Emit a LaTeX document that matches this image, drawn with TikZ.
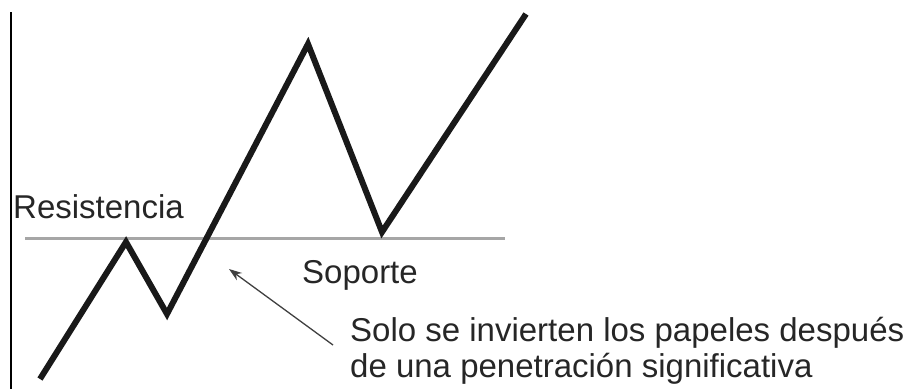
\documentclass[tikz,border=0pt]{standalone}
\usepackage{fontspec}
\setmainfont{Liberation Sans}
\usetikzlibrary{arrows.meta, positioning}

\begin{document}
\begin{tikzpicture}[
    x=1pt, y=-1pt,
    axis/.style={draw=black, line width=2pt},
    level/.style={draw=black!35, line width=3pt},
    price/.style={draw=black!90, line width=6pt, line join=miter},
    pointer/.style={-{Stealth[length=13pt, width=9pt]}, draw=black!75, line width=1.3pt},
    lbl/.style={inner sep=0pt, anchor=base west, text=black!85, font=\fontsize{33}{36}\selectfont}
]
\useasboundingbox (0,0) rectangle (916,389);

% ==================== Axis and Level ====================
\coordinate (axTop) at (11,12);
\coordinate (axBot) at (11,389);
\draw[axis] (axTop) -- (axBot);

\coordinate (lvlL) at (25,238);
\coordinate (lvlR) at (505,238);
\draw[level] (lvlL) -- (lvlR);

% ==================== Price Path ====================
\coordinate (p0) at (40,379);
\coordinate (p1) at (126,242);
\coordinate (p2) at (167,314);
\coordinate (p3) at (308,44);
\coordinate (p4) at (382,232);
\coordinate (p5) at (526,14);
\draw[price] (p0) -- (p1) -- (p2) -- (p3) -- (p4) -- (p5);

% ==================== Labels ====================
\node[lbl] (Resist) at (13,218) {Resistencia};
\node[lbl] (Soporte) at (302,283) {Soporte};
\node[lbl, align=left] (Note) at (350,377) {Solo se invierten los papeles después\\de una penetración significativa};

% Pointer
\coordinate (tail) at (333,345);
\coordinate (tip) at (229,269);
\draw[pointer] (tail) -- (tip);

\end{tikzpicture}
\end{document}
